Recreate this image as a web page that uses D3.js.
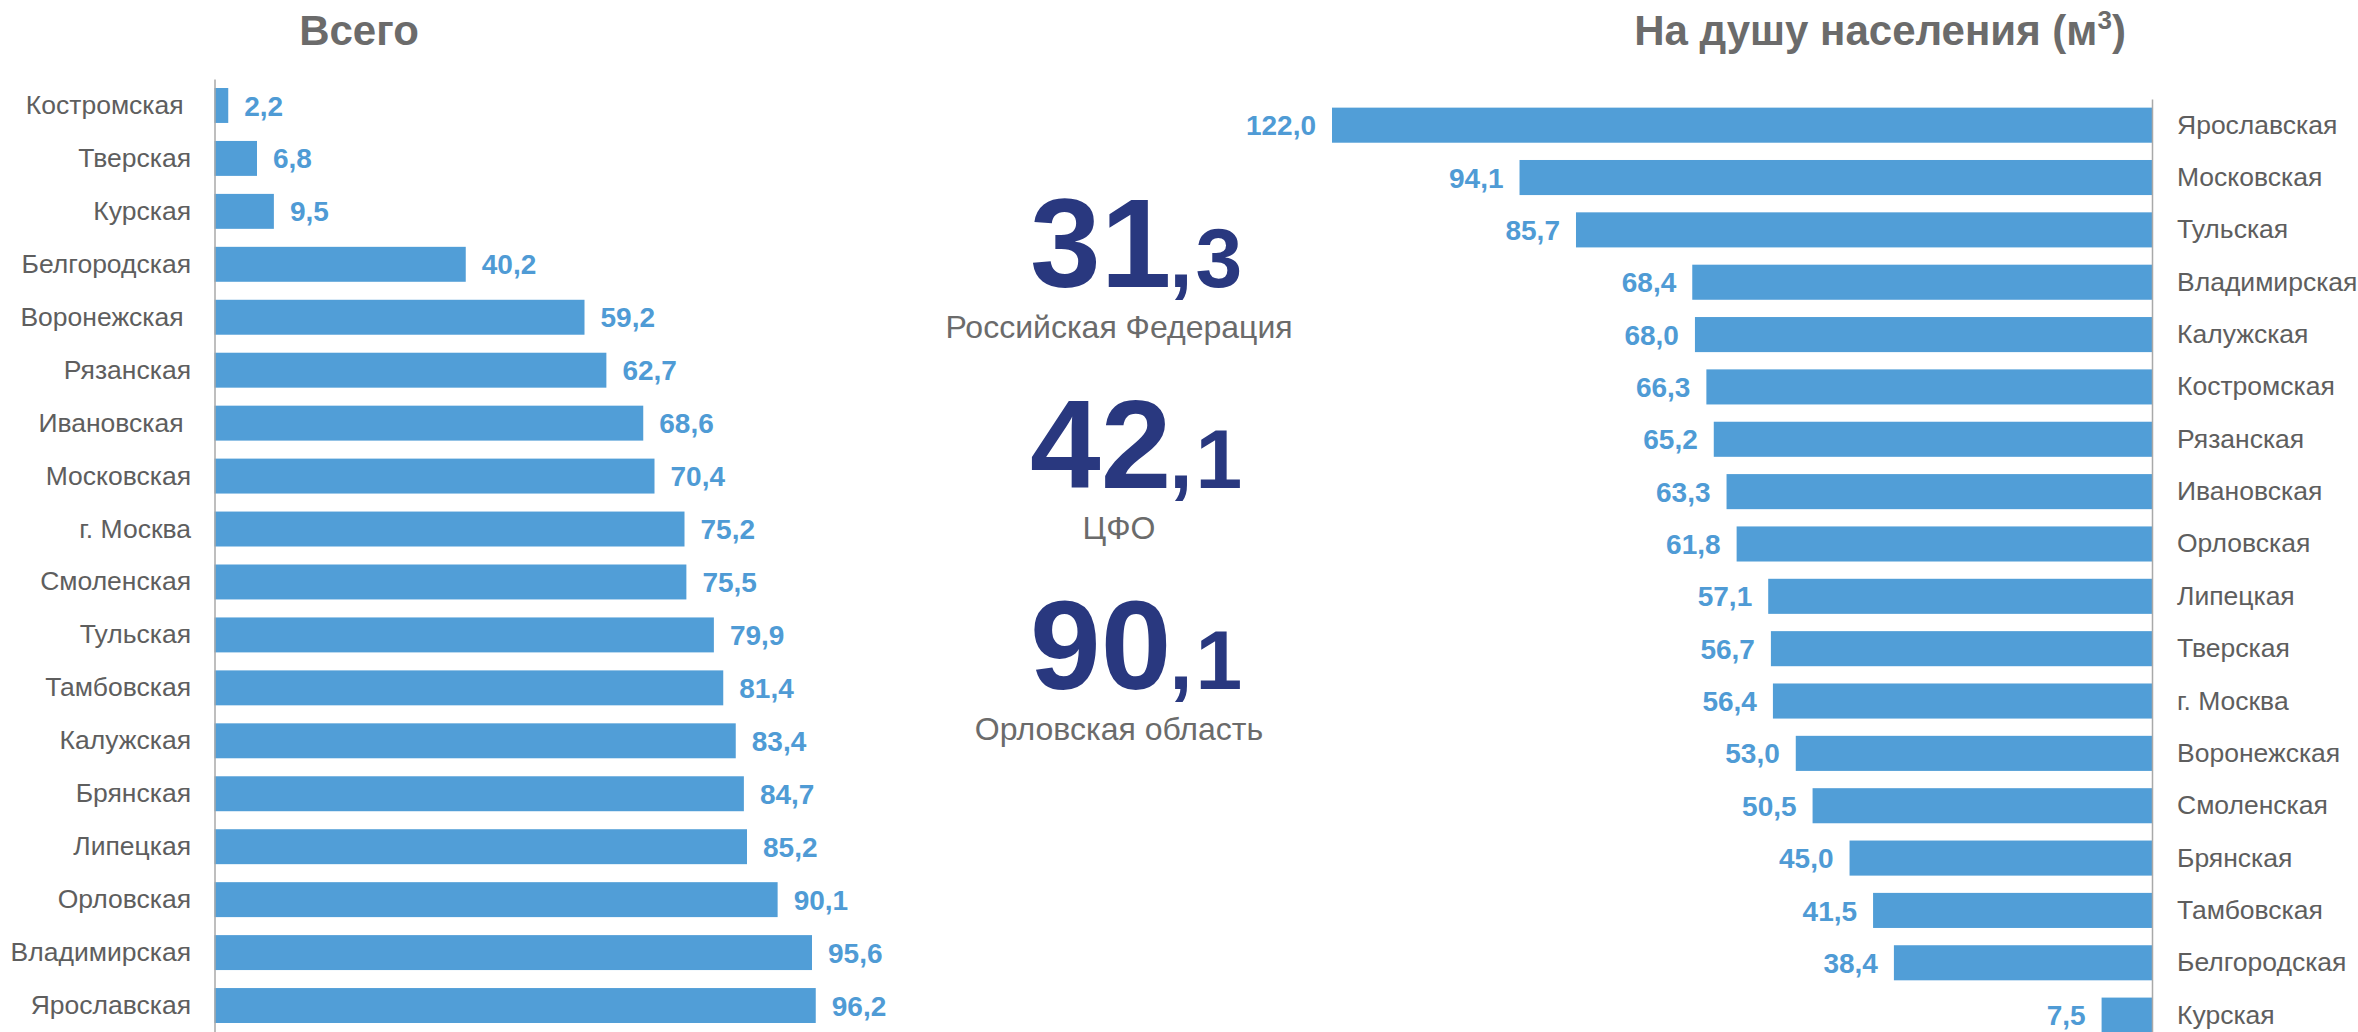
<!DOCTYPE html>
<html>
<head>
<meta charset="utf-8">
<script src="https://cdn.jsdelivr.net/npm/d3@7"></script>
<style>
  html, body { margin: 0; padding: 0; background: #fff; }
  svg { display: block; font-family: "Liberation Sans", Arial, sans-serif; }
  .cat text { white-space: pre; }
</style>
</head>
<body>
<div id="container"></div>
<script>
// Всего
const leftCategories = ['Костромская ', 'Тверская', 'Курская', 'Белгородская', 'Воронежская ', 'Рязанская',
  'Ивановская ', 'Московская', 'г. Москва', 'Смоленская', 'Тульская', 'Тамбовская', 'Калужская',
  'Брянская', 'Липецкая', 'Орловская', 'Владимирская', 'Ярославская'];
const leftValues = [2.2, 6.8, 9.5, 40.2, 59.2, 62.7, 68.6, 70.4, 75.2, 75.5, 79.9, 81.4, 83.4, 84.7, 85.2, 90.1, 95.6, 96.2];

// На душу населения
const rightCategories = ['Ярославская', 'Московская', 'Тульская', 'Владимирская', 'Калужская', 'Костромская',
  'Рязанская', 'Ивановская', 'Орловская', 'Липецкая', 'Тверская', 'г. Москва', 'Воронежская',
  'Смоленская', 'Брянская', 'Тамбовская', 'Белгородская', 'Курская'];
const rightValues = [122.0, 94.1, 85.7, 68.4, 68.0, 66.3, 65.2, 63.3, 61.8, 57.1, 56.7, 56.4, 53.0, 50.5, 45.0, 41.5, 38.4, 7.5];

// big numbers in the middle
const kpiWhole = ['31', '42', '90'];
const kpiFrac = ['3', '1', '1'];
const kpiLabels = ['Российская Федерация', 'ЦФО', 'Орловская область'];

const width = 2358;
const height = 1032;
const barColor = '#519ed7';
const labelBlue = '#4f9bd5';
const darkBlue = '#29387f';
const grey = '#6b6b6b';

const fmt = v => d3.format('.1f')(v).replace('.', ',');

const svg = d3.select('#container')
  .append('svg')
  .attr('width', width)
  .attr('height', height);

// ---------- left chart ----------
const yL = d3.scaleBand()
  .domain(leftCategories)
  .range([79, 1032])
  .paddingInner(0.34)
  .paddingOuter(0.17);
const xL = d3.scaleLinear().domain([0, 100]).range([214.5, 839.5]);

const gL = svg.append('g');
gL.selectAll('rect')
  .data(leftValues)
  .join('rect')
  .attr('x', xL(0))
  .attr('y', (d, i) => yL(leftCategories[i]))
  .attr('width', d => xL(d) - xL(0))
  .attr('height', yL.bandwidth())
  .attr('fill', barColor);

gL.selectAll('text.val')
  .data(leftValues)
  .join('text')
  .attr('class', 'val')
  .attr('x', d => xL(d) + 16)
  .attr('y', (d, i) => yL(leftCategories[i]) + yL.bandwidth() / 2)
  .attr('dy', '0.36em')
  .attr('font-size', 28)
  .attr('font-weight', 'bold')
  .attr('fill', labelBlue)
  .text(d => fmt(d));

const axL = gL.append('g')
  .attr('class', 'cat')
  .attr('transform', `translate(${xL(0)},0)`)
  .call(d3.axisLeft(yL).tickSize(0).tickSizeOuter(0).tickPadding(23.5));
axL.select('.domain').attr('stroke', '#a9a9a9').attr('stroke-width', 1.5);
axL.selectAll('text').attr('font-size', 26.5).attr('fill', '#5e5e5e').attr('font-family', null);

svg.append('text')
  .attr('x', 359).attr('y', 45)
  .attr('text-anchor', 'middle')
  .attr('font-size', 42).attr('font-weight', 'bold')
  .attr('fill', grey)
  .text('Всего');

// ---------- right chart ----------
const yR = d3.scaleBand()
  .domain(rightCategories)
  .range([99, 99 + 52.35 * 18])
  .paddingInner(0.33)
  .paddingOuter(0.165);
const xR = d3.scaleLinear().domain([0, 122]).range([2152, 1332]);

const gR = svg.append('g');
gR.selectAll('rect')
  .data(rightValues)
  .join('rect')
  .attr('x', d => xR(d))
  .attr('y', (d, i) => yR(rightCategories[i]))
  .attr('width', d => xR(0) - xR(d))
  .attr('height', yR.bandwidth())
  .attr('fill', barColor);

gR.selectAll('text.val')
  .data(rightValues)
  .join('text')
  .attr('class', 'val')
  .attr('x', d => xR(d) - 16)
  .attr('y', (d, i) => yR(rightCategories[i]) + yR.bandwidth() / 2)
  .attr('dy', '0.36em')
  .attr('text-anchor', 'end')
  .attr('font-size', 28)
  .attr('font-weight', 'bold')
  .attr('fill', labelBlue)
  .text(d => fmt(d));

const axR = gR.append('g')
  .attr('class', 'cat')
  .attr('transform', `translate(${xR(0)},0)`)
  .call(d3.axisRight(yR).tickSize(0).tickSizeOuter(0).tickPadding(25));
axR.select('.domain').attr('stroke', '#a9a9a9').attr('stroke-width', 1.5);
axR.selectAll('text').attr('font-size', 26.5).attr('fill', '#5e5e5e').attr('font-family', null);

const titleR = svg.append('text')
  .attr('x', 1880).attr('y', 45)
  .attr('text-anchor', 'middle')
  .attr('font-size', 42).attr('font-weight', 'bold')
  .attr('fill', grey);
titleR.append('tspan').text('На душу населения (м');
titleR.append('tspan').attr('font-size', 26).attr('dy', -16).text('3');
titleR.append('tspan').attr('dy', 16).text(')');

// ---------- centre figures ----------
const kpiBase = [287, 488, 689];
kpiWhole.forEach((w, i) => {
  const t = svg.append('text')
    .attr('x', 1030).attr('y', kpiBase[i])
    .attr('font-weight', 'bold')
    .attr('fill', darkBlue);
  t.append('tspan').attr('font-size', 127).text(w);
  t.append('tspan').attr('font-size', 84).attr('dx', -2)
    .attr('letter-spacing', 3).text(',' + kpiFrac[i]);

  svg.append('text')
    .attr('x', 1119).attr('y', kpiBase[i] + 51)
    .attr('text-anchor', 'middle')
    .attr('font-size', 32)
    .attr('fill', grey)
    .text(kpiLabels[i]);
});
</script>
</body>
</html>
